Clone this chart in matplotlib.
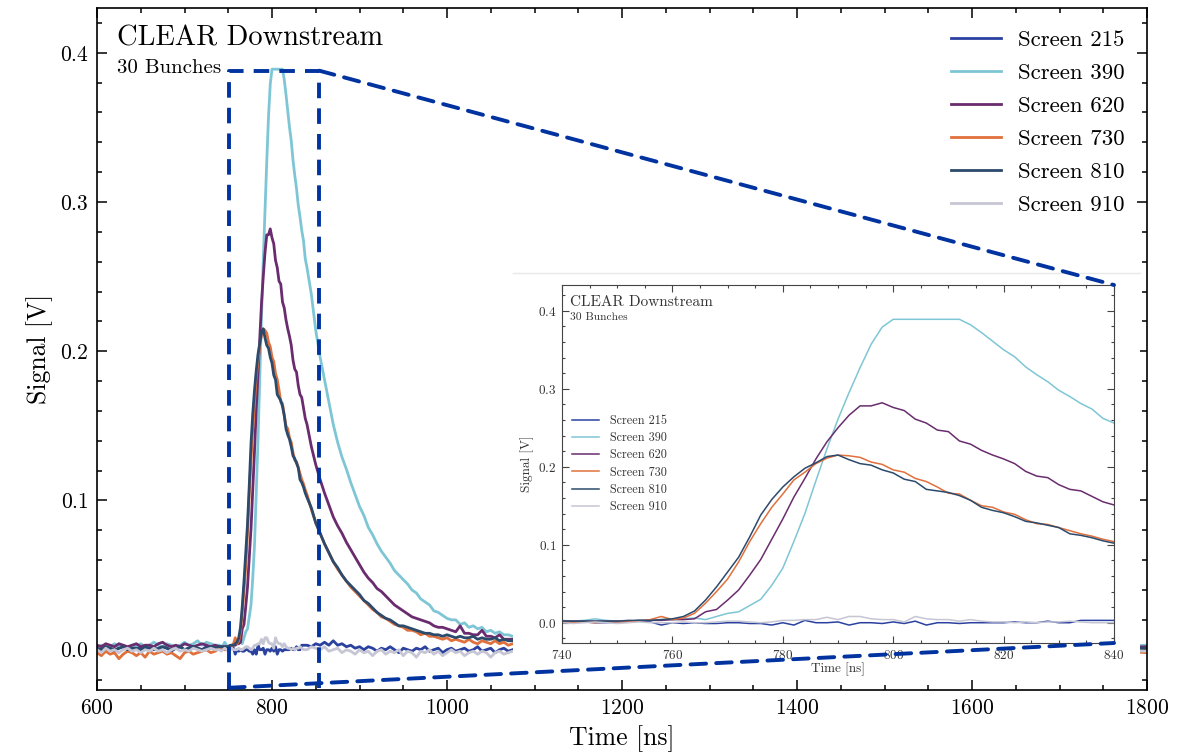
import numpy as np
import matplotlib
matplotlib.use('Agg')
import matplotlib.pyplot as plt
from matplotlib.ticker import MultipleLocator
from matplotlib.patches import Rectangle, ConnectionPatch

plt.rcParams['font.family'] = 'serif'
plt.rcParams['font.serif'] = ['cmr10']
plt.rcParams['mathtext.fontset'] = 'cm'
plt.rcParams['axes.formatter.use_mathtext'] = True

# time axes [ns]: baseline, peak (2 ns), decay, far tail
t_pre = np.arange(600, 740, 5)
t_zoom = np.arange(740, 842, 2)
t_post = np.arange(845, 1085, 5)
t_tail = [1150, 1300, 1450, 1600, 1750, 1800]

screens = ['Screen 215', 'Screen 390', 'Screen 620', 'Screen 730', 'Screen 810', 'Screen 910']
colors = ['#2a41a0', '#7ec6d5', '#6a2c6e', '#e0703c', '#2b4a6c', '#c6c6d4']

# signal [V]
s215_pre = [0.001, 0.000, 0.002, 0.001, -0.001, 0.001, 0.002, 0.000, 0.001, 0.003, 0.001, 0.000, 0.002, 0.001,
            0.000, 0.002, 0.001, -0.001, 0.001, 0.002, 0.000, 0.001, 0.002, 0.001, 0.000, 0.002, 0.001, 0.002]
s390_pre = [0.002, 0.003, 0.001, 0.002, 0.004, 0.002, 0.003, 0.001, 0.003, 0.002, 0.004, 0.002, 0.003, 0.005,
            0.003, 0.002, 0.004, 0.003, 0.002, 0.003, 0.005, 0.003, 0.004, 0.006, 0.003, 0.005, 0.004, 0.003]
s620_pre = [0.003, 0.002, 0.004, 0.003, 0.002, 0.004, 0.003, 0.002, 0.003, 0.004, 0.002, 0.003, 0.003, 0.002,
            0.004, 0.005, 0.003, 0.002, 0.003, 0.002, 0.004, 0.003, 0.002, 0.003, 0.004, 0.003, 0.002, 0.003]
s730_pre = [-0.002, -0.004, -0.001, -0.003, -0.002, -0.006, -0.003, -0.001, -0.002, -0.004, -0.002, -0.005, -0.001, -0.003,
            -0.002, -0.001, -0.003, -0.002, -0.004, -0.006, -0.002, -0.001, -0.003, -0.002, -0.001, 0.000, -0.002, -0.001]
s810_pre = [0.001, 0.000, 0.002, 0.001, 0.000, 0.001, 0.002, 0.000, 0.001, 0.001, 0.000, 0.002, 0.001, 0.000,
            0.001, 0.002, 0.001, 0.000, 0.001, 0.002, 0.000, 0.001, 0.002, 0.001, 0.000, 0.001, 0.002, 0.001]
s910_pre = [0.000, -0.002, 0.001, -0.001, 0.000, -0.002, 0.000, 0.001, -0.001, 0.000, -0.002, 0.000, -0.001, 0.001,
            -0.001, 0.000, -0.002, 0.000, 0.001, -0.001, 0.000, -0.001, 0.001, 0.000, -0.001, 0.000, 0.001, 0.000]

s215_zoom = [0.002, 0.001, 0.001, 0.000, 0.000, 0.001, 0.001, 0.002, 0.001, -0.003,
             0.000, -0.001, 0.000, -0.001, -0.001, 0.000, 0.000, -0.001, -0.001, -0.003,
             0.000, -0.003, 0.003, 0.000, 0.000, 0.001, -0.003, 0.000, 0.000, -0.001,
             0.001, -0.001, 0.002, -0.003, 0.000, 0.000, -0.001, 0.000, 0.000, 0.000,
             0.000, 0.001, 0.000, 0.000, 0.002, 0.000, 0.000, 0.003, 0.003, 0.003, 0.003]
s390_zoom = [0.003, 0.002, 0.003, 0.005, 0.003, 0.002, 0.002, 0.003, 0.003, 0.004,
             0.004, 0.005, 0.006, 0.004, 0.008, 0.012, 0.014, 0.022, 0.030, 0.048,
             0.070, 0.104, 0.140, 0.182, 0.223, 0.261, 0.295, 0.327, 0.357, 0.379,
             0.389, 0.389, 0.389, 0.389, 0.389, 0.389, 0.389, 0.382, 0.372, 0.361,
             0.350, 0.341, 0.328, 0.318, 0.309, 0.298, 0.290, 0.281, 0.274, 0.262, 0.256]
s620_zoom = [0.002, 0.002, 0.002, 0.002, 0.002, 0.002, 0.002, 0.003, 0.003, 0.003,
             0.004, 0.004, 0.005, 0.014, 0.017, 0.029, 0.042, 0.061, 0.081, 0.107,
             0.133, 0.161, 0.185, 0.210, 0.232, 0.250, 0.266, 0.278, 0.278, 0.282,
             0.276, 0.272, 0.261, 0.256, 0.247, 0.245, 0.233, 0.229, 0.221, 0.215,
             0.210, 0.204, 0.194, 0.188, 0.186, 0.177, 0.171, 0.169, 0.162, 0.155, 0.151]
s730_zoom = [0.001, 0.000, 0.001, 0.000, 0.001, 0.001, 0.001, 0.002, 0.004, 0.008,
             0.004, 0.006, 0.012, 0.025, 0.040, 0.056, 0.078, 0.104, 0.127, 0.148,
             0.165, 0.183, 0.193, 0.204, 0.211, 0.215, 0.214, 0.212, 0.206, 0.203,
             0.196, 0.193, 0.185, 0.181, 0.174, 0.166, 0.165, 0.157, 0.150, 0.148,
             0.142, 0.139, 0.132, 0.127, 0.126, 0.122, 0.118, 0.114, 0.111, 0.107, 0.104]
s810_zoom = [0.002, 0.002, 0.002, 0.002, 0.002, 0.002, 0.003, 0.003, 0.003, 0.004,
             0.005, 0.008, 0.015, 0.029, 0.046, 0.065, 0.084, 0.110, 0.138, 0.158,
             0.174, 0.187, 0.198, 0.205, 0.213, 0.215, 0.209, 0.204, 0.202, 0.196,
             0.192, 0.184, 0.181, 0.171, 0.169, 0.167, 0.163, 0.157, 0.148, 0.144,
             0.141, 0.136, 0.130, 0.128, 0.125, 0.122, 0.114, 0.112, 0.109, 0.105, 0.102]
s910_zoom = [0.000, -0.001, 0.000, 0.001, 0.000, -0.001, 0.000, 0.001, 0.000, 0.000,
             0.000, 0.001, 0.000, 0.000, 0.001, 0.002, 0.002, 0.001, 0.000, 0.001,
             0.003, 0.003, 0.004, 0.004, 0.007, 0.004, 0.008, 0.008, 0.005, 0.004,
             0.004, 0.001, 0.008, 0.005, 0.004, 0.004, 0.002, 0.004, 0.002, 0.001,
             0.001, 0.000, 0.001, 0.000, 0.001, 0.001, 0.002, 0.001, 0.000, 0.000, 0.000]

s215_post = [0.002, 0.004, 0.003, 0.005, 0.003, 0.006, 0.003, 0.004, 0.002, 0.003, 0.001, 0.002,
             0.000, 0.002, 0.001, -0.001, 0.001, 0.000, 0.002, 0.000, -0.002, 0.001, 0.000, -0.001,
             0.001, 0.000, 0.002, -0.001, 0.000, 0.001, -0.002, 0.000, 0.001, -0.001, 0.000, 0.001,
             -0.001, 0.000, 0.002, -0.001, 0.000, 0.001, -0.002, 0.000, 0.001, -0.001, 0.000, 0.001]
s390_post = [0.238, 0.214, 0.196, 0.181, 0.166, 0.151, 0.139, 0.129, 0.121, 0.112, 0.104, 0.096,
             0.090, 0.082, 0.077, 0.071, 0.066, 0.062, 0.058, 0.053, 0.050, 0.047, 0.044, 0.040,
             0.038, 0.034, 0.032, 0.030, 0.026, 0.025, 0.023, 0.021, 0.020, 0.020, 0.017, 0.018,
             0.015, 0.016, 0.014, 0.015, 0.012, 0.013, 0.011, 0.012, 0.010, 0.010, 0.009, 0.009]
s620_post = [0.136, 0.124, 0.114, 0.105, 0.097, 0.089, 0.083, 0.078, 0.072, 0.067, 0.062, 0.057,
             0.052, 0.048, 0.045, 0.041, 0.039, 0.036, 0.033, 0.030, 0.028, 0.026, 0.024, 0.022,
             0.021, 0.020, 0.019, 0.018, 0.016, 0.015, 0.015, 0.014, 0.013, 0.012, 0.016, 0.011,
             0.011, 0.010, 0.010, 0.013, 0.009, 0.009, 0.008, 0.010, 0.007, 0.007, 0.007, 0.006]
s730_post = [0.094, 0.085, 0.078, 0.071, 0.065, 0.059, 0.054, 0.050, 0.046, 0.042, 0.039, 0.036,
             0.033, 0.030, 0.027, 0.025, 0.022, 0.021, 0.019, 0.017, 0.016, 0.015, 0.013, 0.013,
             0.012, 0.010, 0.011, 0.009, 0.009, 0.008, 0.007, 0.008, 0.006, 0.007, 0.006, 0.005,
             0.007, 0.005, 0.004, 0.006, 0.005, 0.004, 0.006, 0.004, 0.005, 0.003, 0.004, 0.003]
s810_post = [0.095, 0.085, 0.078, 0.071, 0.065, 0.059, 0.055, 0.050, 0.046, 0.043, 0.040, 0.037,
             0.033, 0.031, 0.028, 0.025, 0.023, 0.021, 0.020, 0.018, 0.016, 0.016, 0.015, 0.014,
             0.013, 0.012, 0.011, 0.011, 0.010, 0.010, 0.009, 0.010, 0.009, 0.008, 0.009, 0.008,
             0.008, 0.009, 0.007, 0.008, 0.007, 0.007, 0.008, 0.006, 0.007, 0.006, 0.006, 0.006]
s910_post = [0.002, 0.001, 0.000, 0.002, -0.001, 0.000, 0.001, -0.002, 0.000, -0.001, -0.003, 0.000,
             -0.002, -0.001, -0.004, -0.001, 0.000, -0.003, -0.001, -0.002, 0.000, -0.004, -0.001, -0.002,
             -0.005, -0.001, -0.002, 0.000, -0.003, -0.001, -0.004, -0.002, 0.000, -0.002, -0.001, -0.004,
             -0.002, -0.001, -0.003, -0.001, -0.002, -0.005, -0.002, -0.001, -0.003, -0.002, -0.001, -0.002]

s215_tail = [0.001, 0.000, 0.002, 0.001, 0.000, 0.002]
s390_tail = [0.006, 0.004, 0.003, 0.002, 0.002, 0.003]
s620_tail = [0.004, 0.003, 0.002, 0.002, 0.001, 0.002]
s730_tail = [0.002, 0.001, 0.000, -0.001, 0.000, -0.002]
s810_tail = [0.004, 0.003, 0.002, 0.001, 0.001, 0.001]
s910_tail = [-0.001, 0.000, -0.002, -0.001, 0.000, -0.001]

pre = [s215_pre, s390_pre, s620_pre, s730_pre, s810_pre, s910_pre]
zoom = [s215_zoom, s390_zoom, s620_zoom, s730_zoom, s810_zoom, s910_zoom]
post = [s215_post, s390_post, s620_post, s730_post, s810_post, s910_post]
tail = [s215_tail, s390_tail, s620_tail, s730_tail, s810_tail, s910_tail]

t_all = np.concatenate([t_pre, t_zoom, t_post, t_tail])

fig = plt.figure(figsize=(11.92, 7.54), dpi=100)
ax = fig.add_axes([97 / 1192, 64 / 754, 1050 / 1192, 682 / 754])

for name, c, a, b, d, e in zip(screens, colors, pre, zoom, post, tail):
    ax.plot(t_all, np.concatenate([a, b, d, e]), color=c, lw=2.0, label=name)

ax.set_xlim(600, 1800)
ax.set_ylim(-0.027, 0.43)
ax.xaxis.set_major_locator(MultipleLocator(200))
ax.xaxis.set_minor_locator(MultipleLocator(50))
ax.yaxis.set_major_locator(MultipleLocator(0.1))
ax.yaxis.set_minor_locator(MultipleLocator(0.02))
ax.tick_params(which='both', direction='in', top=True, right=True, width=1.1)
ax.tick_params(which='major', length=7, labelsize=15.5, pad=6)
ax.tick_params(which='minor', length=3.8)
for sp in ax.spines.values():
    sp.set_linewidth(1.2)
ax.set_xlabel('Time [ns]', fontsize=18.5, labelpad=5)
ax.set_ylabel('Signal [V]', fontsize=18.5, labelpad=5)

ax.text(0.019, 0.975, 'CLEAR Downstream', transform=ax.transAxes, fontsize=20.5, va='top')
ax.text(0.019, 0.925, '30 Bunches', transform=ax.transAxes, fontsize=15, va='top')

ax.legend(loc='upper right', frameon=False, fontsize=16.5, handlelength=2.2, handletextpad=0.75,
          labelspacing=0.57, borderaxespad=0, borderpad=0.3, bbox_to_anchor=(0.9855, 0.978))

# white backing for the zoomed panel
ax.add_patch(Rectangle((0.396, 0.018), 0.597, 0.593, transform=ax.transAxes, facecolor='white',
                       edgecolor='none', zorder=4, clip_on=False))
ax.plot([0.396, 0.993], [0.611, 0.611], transform=ax.transAxes, color='#e8e8e8', lw=1, zorder=4)

axins = ax.inset_axes([465 / 1050, 47 / 682, 552 / 1050, 358 / 682])
axins.set_zorder(5)
for name, c, b in zip(screens, colors, zoom):
    axins.plot(t_zoom, b, color=c, lw=1.1, label=name)
axins.set_xlim(740, 840)
axins.set_ylim(-0.026, 0.433)
axins.xaxis.set_major_locator(MultipleLocator(20))
axins.xaxis.set_minor_locator(MultipleLocator(5))
axins.yaxis.set_major_locator(MultipleLocator(0.1))
axins.yaxis.set_minor_locator(MultipleLocator(0.02))
axins.tick_params(which='both', direction='in', top=True, right=True, color='#444444', width=0.8,
                  labelcolor='#333333')
axins.tick_params(which='major', length=5, labelsize=9.5, pad=4)
axins.tick_params(which='minor', length=2.5)
for sp in axins.spines.values():
    sp.set_color('#444444')
    sp.set_linewidth(0.8)
axins.set_xlabel('Time [ns]', fontsize=9.5, color='#333333', labelpad=1)
axins.set_ylabel('Signal [V]', fontsize=9.5, color='#333333', labelpad=3)
axins.text(0.015, 0.972, 'CLEAR Downstream', transform=axins.transAxes, fontsize=11, va='top', color='#333333')
axins.text(0.015, 0.922, '30 Bunches', transform=axins.transAxes, fontsize=8.3, va='top', color='#333333')
axins.legend(loc='center left', bbox_to_anchor=(0.01, 0.5), frameon=False, fontsize=8.8,
             handlelength=2.2, handletextpad=0.9, labelspacing=0.42, borderaxespad=0, labelcolor='#333333')

# dashed zoom box and connectors
dash = dict(color='#0033a0', lw=2.8, linestyle=(0, (4, 2.6)), zorder=10, clip_on=False)
bx0, bx1, by0, by1 = 751, 854, -0.0255, 0.388
ax.plot([bx0, bx0, bx1, bx1], [by0, by1, by1, by0], **dash)
ax.add_artist(ConnectionPatch(xyA=(bx1, by1), coordsA=ax.transData, xyB=(1, 1), coordsB=axins.transAxes, **dash))
ax.add_artist(ConnectionPatch(xyA=(bx0, by0), coordsA=ax.transData, xyB=(1, 0), coordsB=axins.transAxes, **dash))

fig.savefig('out.png', dpi=100)
